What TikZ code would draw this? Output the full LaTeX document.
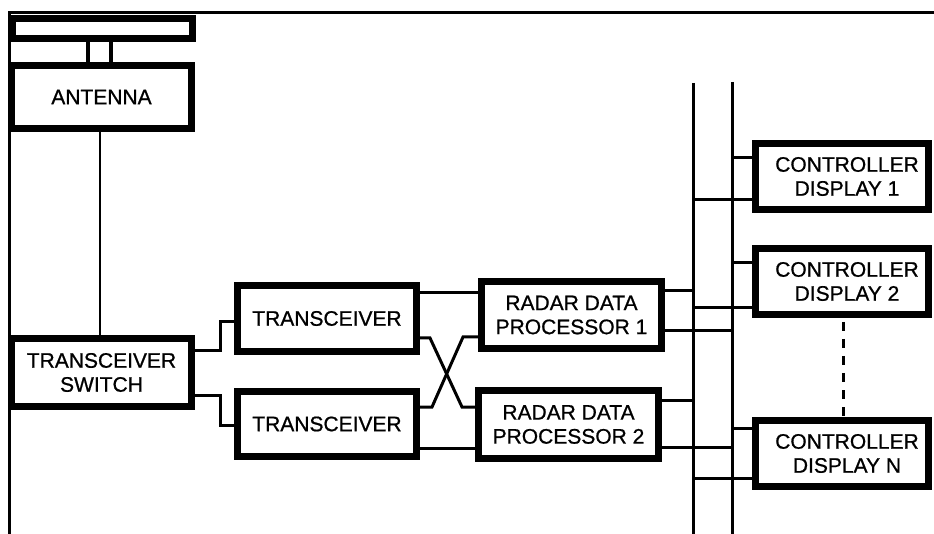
\documentclass[tikz,border=0pt]{standalone}
\usepackage{fontspec}
\setmainfont[FakeBold=0.8]{Liberation Sans}
\begin{document}
\begin{tikzpicture}[x=1pt,y=-1pt,
  blk/.style={draw=black,line width=7pt,fill=white,inner sep=0pt,align=center,
    font=\fontsize{21}{24}\selectfont},
  wire/.style={line width=3pt,line cap=rect},
  frameline/.style={line width=3pt},
  busline/.style={line width=3pt}]
\useasboundingbox (0,0) rectangle (934,534);
% frame
\draw[frameline] (8,12.5) -- (934,12.5);
\draw[frameline] (9,12) -- (9,534);
% antenna
\node[blk,minimum width=180pt,minimum height=20pt] (bar) at (102.5,28.5) {};
\node[blk,minimum width=180pt,minimum height=63pt] (antenna) at (101.5,97) {ANTENNA};
\draw[line width=3.5pt] (88,42) -- (88,62);
\draw[line width=3.5pt] (111,42) -- (111,62);
% blocks
\node[blk,minimum width=180pt,minimum height=68pt] (switch) at (101.5,372.5) {TRANSCEIVER\\SWITCH};
\node[blk,minimum width=179pt,minimum height=66pt] (trx1) at (327,318.5) {TRANSCEIVER};
\node[blk,minimum width=179pt,minimum height=65pt] (trx2) at (327,424) {TRANSCEIVER};
\node[blk,minimum width=180pt,minimum height=67pt] (rdp1) at (571.5,315) {RADAR DATA\\PROCESSOR 1};
\node[blk,minimum width=180pt,minimum height=68pt] (rdp2) at (568.5,424.5) {RADAR DATA\\PROCESSOR 2};
\node[blk,minimum width=173pt,minimum height=66pt] (cd1) at (842,176.5) {\hspace*{10pt}CONTROLLER\\\hspace*{10pt}DISPLAY 1};
\node[blk,minimum width=173pt,minimum height=66pt] (cd2) at (842,281.5) {\hspace*{10pt}CONTROLLER\\\hspace*{10pt}DISPLAY 2};
\node[blk,minimum width=173pt,minimum height=66pt] (cdN) at (842,453.5) {\hspace*{10pt}CONTROLLER\\\hspace*{10pt}DISPLAY N};
% buses
\coordinate (b1t) at (693,83);
\coordinate (b1b) at (693,534);
\coordinate (b2t) at (732,82);
\coordinate (b2b) at (732,534);
\draw[busline] (b1t) -- (b1b);
\draw[busline] (b2t) -- (b2b);
% antenna to switch
\draw[line width=2.5pt] (antenna.south -| 100,0) -- (switch.north -| 100,0);
% switch to transceivers
\draw[wire] (switch.east |- 0,351) -- (220,351) -- (220,322) -- (trx1.west |- 0,322);
\draw[wire] (switch.east |- 0,395) -- (220,395) -- (220,425) -- (trx2.west |- 0,425);
% transceivers to processors
\draw[wire] (trx1.east |- 0,293) -- (rdp1.west |- 0,293);
\draw[wire] (trx1.east |- 0,338) -- (430,338) -- (462,407) -- (rdp2.west |- 0,407);
\draw[wire] (trx2.east |- 0,407) -- (432,407) -- (463,337) -- (rdp1.west |- 0,337);
\draw[wire] (trx2.east |- 0,448) -- (rdp2.west |- 0,448);
% processors to buses
\draw[wire] (rdp1.east |- 0,291) -- (b1t |- 0,291);
\draw[wire] (rdp1.east |- 0,331) -- (b2t |- 0,331);
\draw[wire] (rdp2.east |- 0,400) -- (b1t |- 0,400);
\draw[wire] (rdp2.east |- 0,447) -- (b2t |- 0,447);
% buses to displays
\draw[wire] (b2t |- 0,158) -- (cd1.west |- 0,158);
\draw[wire] (b1t |- 0,200) -- (cd1.west |- 0,200);
\draw[wire] (b2t |- 0,263) -- (cd2.west |- 0,263);
\draw[wire] (b1t |- 0,308) -- (cd2.west |- 0,308);
\draw[wire] (b2t |- 0,428) -- (cdN.west |- 0,428);
\draw[wire] (b1t |- 0,478) -- (cdN.west |- 0,478);
% dashed continuation
\draw[line width=3pt,dash pattern=on 9pt off 8pt,dash phase=-4pt] (cd2.south -| 843,0) -- (cdN.north -| 843,0);
\end{tikzpicture}
\end{document}
